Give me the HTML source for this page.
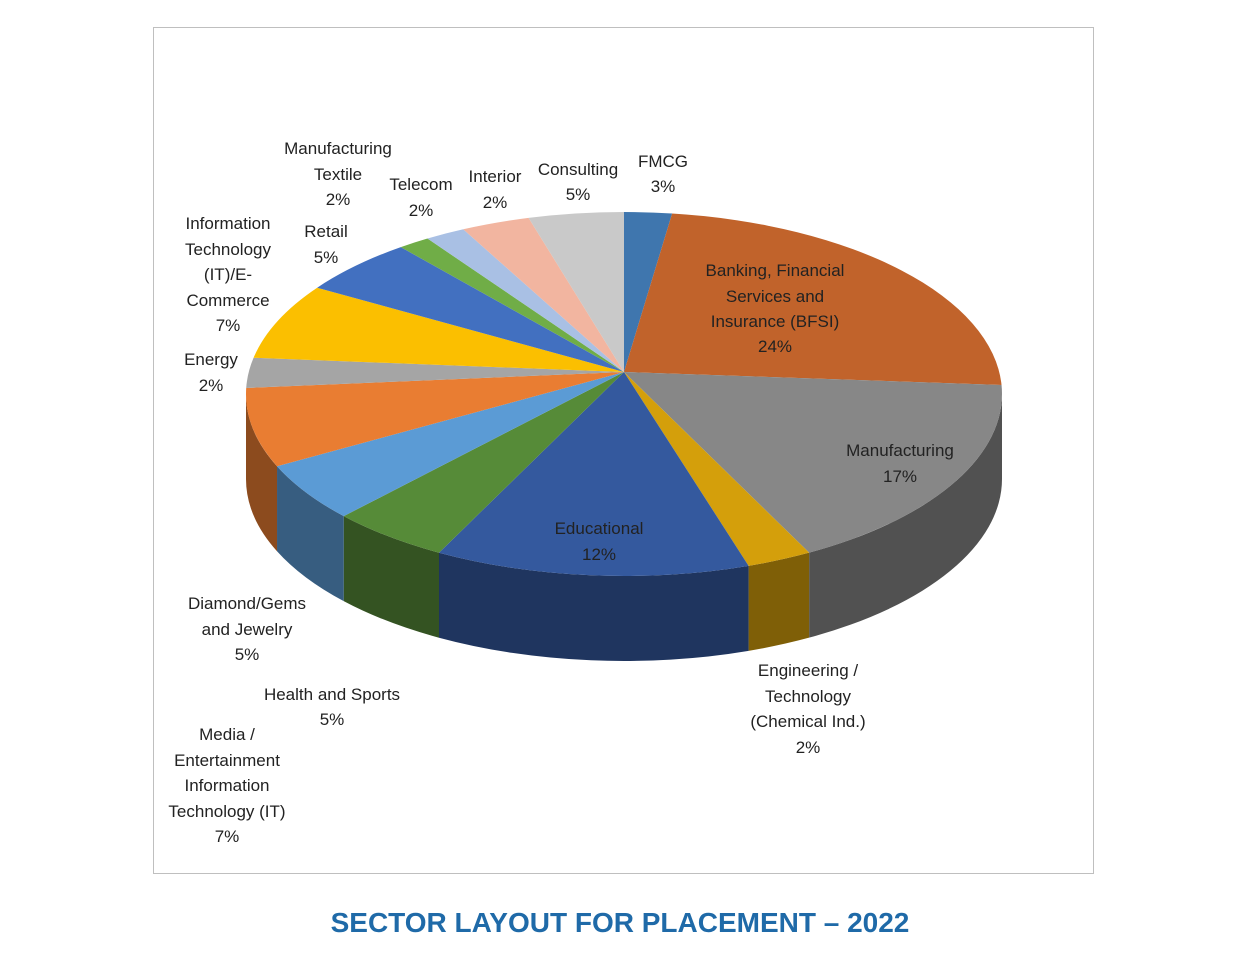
<!DOCTYPE html>
<html><head><meta charset="utf-8"><style>
body{margin:0;background:#fff;width:1237px;height:954px;overflow:hidden}
svg text{font-family:"Liberation Sans",sans-serif;font-size:17px;fill:#222}
</style></head><body>
<svg id="s" width="1237" height="954" xmlns="http://www.w3.org/2000/svg">
<rect x="153.5" y="27.5" width="940" height="846" fill="#fff" stroke="#bfbfbf"/>
<g id="walls"></g><g id="tops"></g>
<g text-anchor="middle">
<text x="663" y="167">FMCG</text><text x="663" y="192">3%</text>
<text x="775" y="276">Banking, Financial</text><text x="775" y="302">Services and</text><text x="775" y="327">Insurance (BFSI)</text><text x="775" y="352">24%</text>
<text x="900" y="456">Manufacturing</text><text x="900" y="482">17%</text>
<text x="808" y="676">Engineering /</text><text x="808" y="702">Technology</text><text x="808" y="727">(Chemical Ind.)</text><text x="808" y="753">2%</text>
<text x="599" y="534">Educational</text><text x="599" y="560">12%</text>
<text x="332" y="700">Health and Sports</text><text x="332" y="725">5%</text>
<text x="247" y="609">Diamond/Gems</text><text x="247" y="635">and Jewelry</text><text x="247" y="660">5%</text>
<text x="227" y="740">Media /</text><text x="227" y="766">Entertainment</text><text x="227" y="791">Information</text><text x="227" y="817">Technology (IT)</text><text x="227" y="842">7%</text>
<text x="211" y="365">Energy</text><text x="211" y="391">2%</text>
<text x="228" y="229">Information</text><text x="228" y="255">Technology</text><text x="228" y="280">(IT)/E-</text><text x="228" y="306">Commerce</text><text x="228" y="331">7%</text>
<text x="326" y="237">Retail</text><text x="326" y="263">5%</text>
<text x="338" y="154">Manufacturing</text><text x="338" y="180">Textile</text><text x="338" y="205">2%</text>
<text x="421" y="190">Telecom</text><text x="421" y="216">2%</text>
<text x="495" y="182">Interior</text><text x="495" y="208">2%</text>
<text x="578" y="175">Consulting</text><text x="578" y="200">5%</text>
</g>
<text x="620" y="932" text-anchor="middle" style="font-size:28px;font-weight:bold;fill:#1f6aa8">SECTOR LAYOUT FOR PLACEMENT – 2022</text>
</svg>
<script>
var cx=624,cy=394,rx=378,ry=182,D=85,ax=624,ay=372,NS="http://www.w3.org/2000/svg";
// boundary points (start of each slice) and colours
var B=[[624,212],[672,214],[1002,385],[806,550],[748,565],[441,551],[344,516],[278,466],[246,388],[256,358],[318,288],[393,242],[423,235],[460,226],[527,215]];
var C=["#3f76ae","#c1632b","#878787","#d49f0b","#34599e","#568b38","#5b9bd5","#e97d32","#a5a5a5","#fbbf00","#4270c0","#70ad47","#a9c0e4","#f2b5a0","#c9c9c9"];
var A=B.map(function(p){var t=Math.atan2((p[0]-cx)/rx,-(p[1]-cy)/ry);return t<0?t+2*Math.PI:t;});
A[0]=0;A.push(2*Math.PI);
function P(a,dy){return [cx+rx*Math.sin(a),cy-ry*Math.cos(a)+(dy||0)];}
function dark(c,f){var n=parseInt(c.slice(1),16);return "rgb("+[(n>>16)&255,(n>>8)&255,n&255].map(function(v){return Math.round(v*f)}).join(",")+")";}
var W=document.getElementById("walls"),T=document.getElementById("tops");
for(var i=0;i<C.length;i++){
 var a1=A[i],a2=A[i+1],p1=P(a1),p2=P(a2),large=(a2-a1)>Math.PI?1:0;
 var t=document.createElementNS(NS,"path");
 t.setAttribute("d","M"+ax+","+ay+"L"+p1+"A"+rx+","+ry+" 0 "+large+" 1 "+p2+"Z");
 t.setAttribute("fill",C[i]);T.appendChild(t);
 var b1=Math.max(a1,Math.PI/2),b2=Math.min(a2,1.5*Math.PI);
 if(b2>b1){var q1=P(b1),q2=P(b2),q3=P(b2,D),q4=P(b1,D);
  var w=document.createElementNS(NS,"path");
  w.setAttribute("d","M"+q1+"A"+rx+","+ry+" 0 0 1 "+q2+"L"+q3+"A"+rx+","+ry+" 0 0 0 "+q4+"Z");
  w.setAttribute("fill",dark(C[i],0.6));W.appendChild(w);}
}
</script>
</body></html>
